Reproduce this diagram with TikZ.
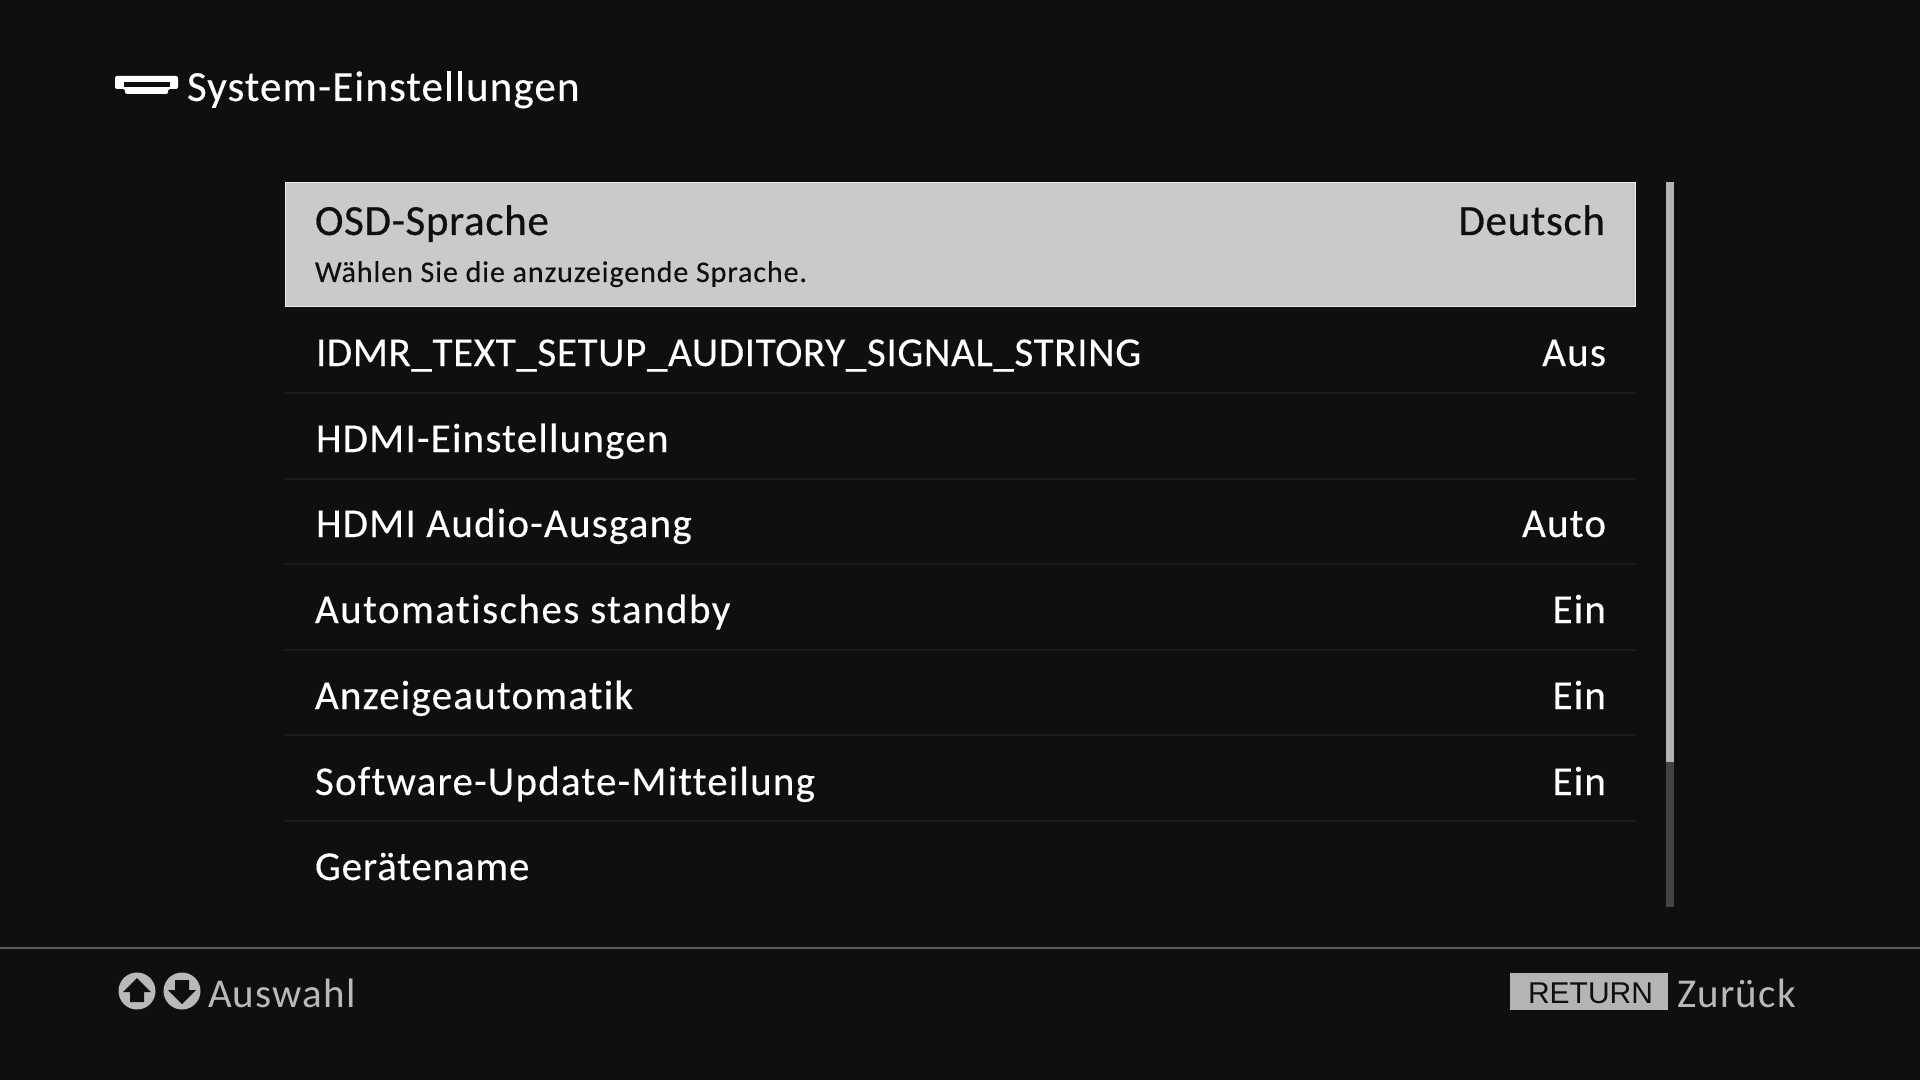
\documentclass[tikz,border=0pt]{standalone}
\usepackage{fontspec}
\setmainfont{Carlito}[LetterSpace=3.0,FakeBold=0.25,Ligatures={NoCommon}]
\newfontfamily\capsfont{Carlito}[LetterSpace=1.6,FakeBold=0.25,Ligatures={NoCommon}]
\newfontfamily\widefont{Carlito}[LetterSpace=3.6,FakeBold=0.25,Ligatures={NoCommon}]
\newfontfamily\nameFont{Carlito}[LetterSpace=2.0,FakeBold=0.25,Ligatures={NoCommon}]
\newfontfamily\headfont{Carlito}[LetterSpace=2.6,FakeBold=0.3,Ligatures={NoCommon}]
\newfontfamily\hlfont{Carlito}[LetterSpace=1.6,FakeBold=0.5,Ligatures={NoCommon}]
\newfontfamily\footfont{Carlito}[LetterSpace=3,Ligatures={NoCommon}]
\newfontfamily\arialfont{Liberation Sans}
\definecolor{bgc}{HTML}{0F0E11}
\definecolor{hl}{HTML}{CBC9CC}
\definecolor{hledge}{HTML}{EDEDEE}
\definecolor{sepc}{HTML}{1B1A1D}
\definecolor{barlight}{HTML}{B4B3B6}
\definecolor{bardark}{HTML}{424144}
\definecolor{linec}{HTML}{5A595C}
\definecolor{greyc}{HTML}{B9B8BB}
\definecolor{dark}{HTML}{0F0E11}
\tikzset{
  x=0.5pt,y=-0.5pt,
  every node/.style={inner sep=0pt,outer sep=0pt},
  rowl/.style={anchor=base west,text=white,font=\fontsize{20.5}{24}\selectfont},
  rowr/.style={anchor=base east,text=white,font=\fontsize{20.5}{24}\selectfont},
  hll/.style={anchor=base west,text=dark,font=\hlfont\fontsize{21.5}{24}\selectfont},
  hlr/.style={anchor=base east,text=dark,font=\hlfont\fontsize{21.5}{24}\selectfont},
  foot/.style={anchor=base west,text=greyc,font=\footfont\fontsize{20.5}{24}\selectfont},
  sepline/.style={draw=sepc,line width=1pt},
}
\begin{document}
\begin{tikzpicture}
\useasboundingbox (0,0) rectangle (1920,1080);
\fill[bgc] (0,0) rectangle (1920,1080);
% title icon
\fill[white,rounded corners=1pt] (115,76) -- (178,76) -- (178,89) -- (168,89) -- (168,94) -- (125,94) -- (125,89) -- (115,89) -- cycle;
\fill[bgc] (124,82) rectangle (170,87);
\node[anchor=base west,text=white,font=\headfont\fontsize{21.5}{24}\selectfont] (title) at (187,101) {System-Einstellungen};
% highlighted row
\draw[hledge,fill=hl,line width=0.8pt] (285.5,182.5) rectangle (1635.5,306.5);
\node[hll] (osd) at (315,235) {OSD-Sprache};
\node[hlr] (osdv) at (1605,235) {Deutsch};
\node[anchor=base west,text=dark,font=\fontsize{15}{18}\selectfont] (osdh) at (315,282) {Wählen Sie die anzuzeigende Sprache.};
% rows
\node[rowl,font=\capsfont\fontsize{20.5}{24}\selectfont] (r1) at (316,366) {IDMR\_TEXT\_SETUP\_AUDITORY\_SIGNAL\_STRING};
\node[rowr] (v1) at (1606,366) {Aus};
\node[rowl] (r2) at (316,452) {HDMI-Einstellungen};
\node[rowl] (r3) at (316,537) {HDMI Audio-Ausgang};
\node[rowr] (v3) at (1606,537) {Auto};
\node[rowl,font=\widefont\fontsize{20.5}{24}\selectfont] (r4) at (315,623) {Automatisches standby};
\node[rowr] (v4) at (1606,623) {Ein};
\node[rowl] (r5) at (315,709) {Anzeigeautomatik};
\node[rowr] (v5) at (1606,709) {Ein};
\node[rowl] (r6) at (315,795) {Software-Update-Mitteilung};
\node[rowr] (v6) at (1606,795) {Ein};
\node[rowl,font=\nameFont\fontsize{20.5}{24}\selectfont] (r7) at (315,880) {Gerätename};
% separators
\foreach \yy in {393,478.5,564,650,735,820.5}
  \draw[sepline] (285,\yy) -- (1636,\yy);
% scrollbar
\fill[bardark] (1666,762) rectangle (1674,907);
\fill[barlight] (1666,182) rectangle (1674,762);
% footer line
\fill[linec] (0,947) rectangle (1920,949);
% arrows icons
\fill[greyc] (137,991) circle (18.5);
\fill[dark] (137,978) -- (151,992) -- (144,992) -- (144,1002) -- (130,1002) -- (130,992) -- (123,992) -- cycle;
\fill[greyc] (182,991) circle (18.5);
\fill[dark] (182,1004) -- (168,990) -- (175,990) -- (175,980) -- (189,980) -- (189,990) -- (196,990) -- cycle;
\node[foot] (sel) at (208,1007) {Auswahl};
% return
\fill[barlight] (1510,973) rectangle (1668,1010);
\node[anchor=base,text=dark,font=\arialfont\fontsize{15}{20}\selectfont] (ret) at (1590.5,1003) {RETURN};
\node[foot] (back) at (1677,1007) {Zurück};
\end{tikzpicture}
\end{document}
